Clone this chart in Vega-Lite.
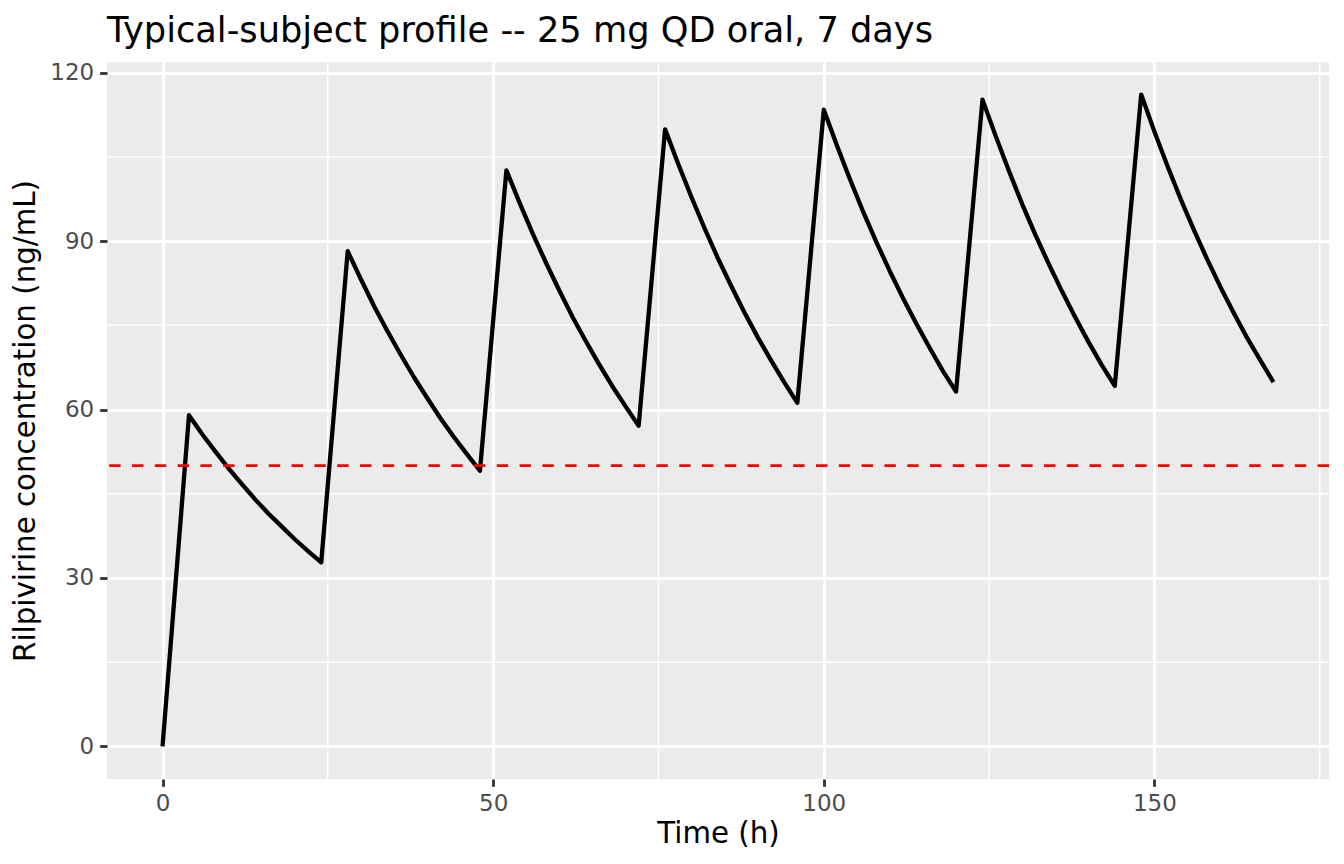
{
  "$schema": "https://vega.github.io/schema/vega-lite/v6.json",
  "width": 1222,
  "height": 717,
  "autosize": {"type": "none"},
  "padding": {"left": 107, "top": 62, "right": 15, "bottom": 85},
  "background": "white",
  "config": {
    "font": "DejaVu Sans",
    "view": {"fill": "#EBEBEB", "stroke": null},
    "axis": {
      "domain": false,
      "grid": true,
      "gridColor": "white",
      "gridWidth": 2.84,
      "tickColor": "#333333",
      "tickWidth": 2.84,
      "tickSize": 7.3,
      "labelPadding": 6,
      "labelFontSize": 23,
      "labelColor": "#4D4D4D",
      "labelFont": "DejaVu Sans",
      "titleFont": "DejaVu Sans",
      "titleFontSize": 29.3,
      "titleFontWeight": "normal",
      "titleColor": "black"
    }
  },
  "title": {
    "text": "Typical-subject profile -- 25 mg QD oral, 7 days",
    "anchor": "start",
    "frame": "group",
    "fontSize": 35.2,
    "fontWeight": "normal",
    "color": "black",
    "baseline": "alphabetic",
    "offset": -16
  },
  "datasets": {
    "profile": [
      {"time": 0, "conc": 0},
      {"time": 4, "conc": 59.0},
      {"time": 6, "conc": 55.6},
      {"time": 8, "conc": 52.5},
      {"time": 10, "conc": 49.5},
      {"time": 12, "conc": 46.7},
      {"time": 14, "conc": 44.0},
      {"time": 16, "conc": 41.5},
      {"time": 18, "conc": 39.2},
      {"time": 20, "conc": 36.9},
      {"time": 22, "conc": 34.8},
      {"time": 24, "conc": 32.8},
      {"time": 28, "conc": 88.2},
      {"time": 30, "conc": 83.2},
      {"time": 32, "conc": 78.4},
      {"time": 34, "conc": 74.0},
      {"time": 36, "conc": 69.8},
      {"time": 38, "conc": 65.8},
      {"time": 40, "conc": 62.1},
      {"time": 42, "conc": 58.5},
      {"time": 44, "conc": 55.2},
      {"time": 46, "conc": 52.1},
      {"time": 48, "conc": 49.1},
      {"time": 52, "conc": 102.6},
      {"time": 54, "conc": 96.8},
      {"time": 56, "conc": 91.3},
      {"time": 58, "conc": 86.1},
      {"time": 60, "conc": 81.2},
      {"time": 62, "conc": 76.5},
      {"time": 64, "conc": 72.2},
      {"time": 66, "conc": 68.1},
      {"time": 68, "conc": 64.2},
      {"time": 70, "conc": 60.6},
      {"time": 72, "conc": 57.1},
      {"time": 76, "conc": 109.9},
      {"time": 78, "conc": 103.7},
      {"time": 80, "conc": 97.8},
      {"time": 82, "conc": 92.2},
      {"time": 84, "conc": 86.9},
      {"time": 86, "conc": 82.0},
      {"time": 88, "conc": 77.3},
      {"time": 90, "conc": 72.9},
      {"time": 92, "conc": 68.8},
      {"time": 94, "conc": 64.9},
      {"time": 96, "conc": 61.2},
      {"time": 100, "conc": 113.4},
      {"time": 102, "conc": 107.0},
      {"time": 104, "conc": 100.9},
      {"time": 106, "conc": 95.1},
      {"time": 108, "conc": 89.7},
      {"time": 110, "conc": 84.6},
      {"time": 112, "conc": 79.8},
      {"time": 114, "conc": 75.3},
      {"time": 116, "conc": 71.0},
      {"time": 118, "conc": 66.9},
      {"time": 120, "conc": 63.2},
      {"time": 124, "conc": 115.2},
      {"time": 126, "conc": 108.7},
      {"time": 128, "conc": 102.5},
      {"time": 130, "conc": 96.6},
      {"time": 132, "conc": 91.1},
      {"time": 134, "conc": 86.0},
      {"time": 136, "conc": 81.1},
      {"time": 138, "conc": 76.5},
      {"time": 140, "conc": 72.1},
      {"time": 142, "conc": 68.0},
      {"time": 144, "conc": 64.2},
      {"time": 148, "conc": 116.1},
      {"time": 150, "conc": 109.5},
      {"time": 152, "conc": 103.3},
      {"time": 154, "conc": 97.4},
      {"time": 156, "conc": 91.9},
      {"time": 158, "conc": 86.7},
      {"time": 160, "conc": 81.8},
      {"time": 162, "conc": 77.2},
      {"time": 164, "conc": 72.8},
      {"time": 166, "conc": 68.8},
      {"time": 168, "conc": 64.9}
    ],
    "minorY": [{"v": 15}, {"v": 45}, {"v": 75}, {"v": 105}],
    "minorX": [{"v": 25}, {"v": 75}, {"v": 125}, {"v": 175}],
    "threshold": [{"level": 50}]
  },
  "layer": [
    {
      "data": {"name": "minorY"},
      "mark": {"type": "rule", "stroke": "white", "strokeWidth": 1.42},
      "encoding": {
        "y": {"field": "v", "type": "quantitative", "scale": {"domain": [-5.8, 121.9], "nice": false, "zero": false}}
      }
    },
    {
      "data": {"name": "minorX"},
      "mark": {"type": "rule", "stroke": "white", "strokeWidth": 1.42},
      "encoding": {
        "x": {"field": "v", "type": "quantitative", "scale": {"domain": [-8.4, 176.4], "nice": false, "zero": false}}
      }
    },
    {
      "data": {"name": "profile"},
      "mark": {"type": "line", "stroke": "black", "strokeWidth": 4.3, "strokeJoin": "round", "strokeCap": "butt"},
      "encoding": {
        "x": {
          "field": "time", "type": "quantitative",
          "scale": {"domain": [-8.4, 176.4], "nice": false, "zero": false},
          "axis": {"values": [0, 50, 100, 150], "title": "Time (h)", "titlePadding": 4}
        },
        "y": {
          "field": "conc", "type": "quantitative",
          "scale": {"domain": [-5.8, 121.9], "nice": false, "zero": false},
          "axis": {"values": [0, 30, 60, 90, 120], "title": "Rilpivirine concentration (ng/mL)", "titlePadding": 9}
        }
      }
    },
    {
      "data": {"name": "threshold"},
      "mark": {"type": "rule", "stroke": "#FF0000", "strokeWidth": 2.84, "strokeDash": [11.4, 11.4]},
      "encoding": {
        "y": {"field": "level", "type": "quantitative", "scale": {"domain": [-5.8, 121.9], "nice": false, "zero": false}}
      }
    }
  ]
}
